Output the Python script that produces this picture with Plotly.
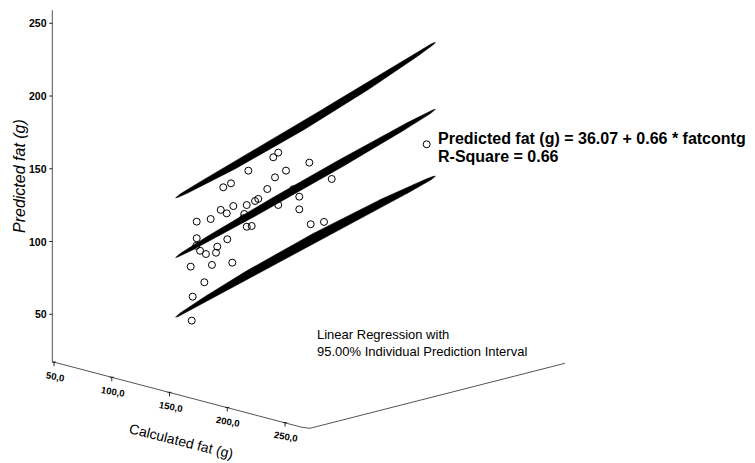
import numpy as np
import plotly.graph_objects as go

# ---------------- data ----------------
calc_fat = [264.4, 135.9, 131.6, 162.8, 110.0, 142.6, 133.1, 182.2, 95.0, 88.3,
            126.4, 148.9, 154.1, 118.6, 115.8, 108.6, 97.0, 86.1, 91.3, 135.9,
            154.1, 106.5, 105.6, 65.3, 77.4, 108.6, 112.9, 164.0, 175.5, 65.3,
            91.8, 68.2, 83.1, 73.3, 82.0, 60.1, 78.5, 96.1, 71.9, 61.8, 61.0, 64.9]
pred_fat = [190.0, 157.6, 153.5, 156.3, 139.8, 146.6, 140.0, 149.1, 128.0, 123.9,
            130.6, 135.1, 131.1, 122.2, 120.2, 115.9, 112.8, 107.9, 106.6, 121.6,
            122.4, 109.3, 106.2, 95.5, 99.8, 101.0, 102.4, 114.2, 118.2, 84.1,
            88.9, 76.1, 82.0, 74.9, 77.6, 63.5, 68.5, 73.7, 55.2, 43.2, 26.6, 78.8]

band_calc = [47, 103, 160, 216, 272]
band_fit = [67.1, 104.1, 141.7, 178.6, 215.6]
band_upper = [108.1, 144.1, 182.3, 221.3, 261.6]
band_lower = [26.1, 64.0, 101.0, 135.9, 169.6]

calc_ticks = [50, 100, 150, 200, 250]
calc_tick_labels = ["50,0", "100,0", "150,0", "200,0", "250,0"]
pred_ticks = [50, 100, 150, 200, 250]
pred_tick_labels = ["50", "100", "150", "200", "250"]
calc_range = [48.5, 269.0]
pred_range = [17.4, 259.0]

equation_text = "Predicted fat (g) = 36.07 + 0.66 * fatcontg"
rsq_text = "R-Square = 0.66"
note_lines = ["Linear Regression with", "95.00% Individual Prediction Interval"]

# ---------------- oblique projection (pseudo 3-D) ----------------
CX0, CY0 = 52.3, 361.7       # screen corner of (calc_min, pred_min, depth 0)
KX, KXY = 1.155, 0.302       # screen px per calc unit (x, down)
KP = 1.455                   # screen px per pred unit (up)
DX, DY = 258.0, -65.0        # full depth vector
POINT_DEPTH = 0.4845


def proj(c, p, d=0.0):
    c = np.asarray(c, float)
    p = np.asarray(p, float)
    sx = CX0 + (c - calc_range[0]) * KX + d * DX
    sy = CY0 + (c - calc_range[0]) * KXY - (p - pred_range[0]) * KP + d * DY
    return sx, sy


fig = go.Figure()
AX_COL = "#555555"


def line(xs, ys, color=AX_COL, width=1):
    fig.add_trace(go.Scatter(x=list(xs), y=list(ys), mode="lines",
                             line=dict(color=color, width=width),
                             hoverinfo="skip", showlegend=False))


# vertical axis
vx, vy = proj([calc_range[0]] * 2, pred_range)
line(vx, vy)
for t in pred_ticks:
    tx, ty = proj(calc_range[0], t)
    line([tx - 3, tx], [ty, ty], color="#222222")
# calc axis + depth axis
ax_c, ax_p = proj(calc_range, [pred_range[0]] * 2)
dx_, dy_ = proj(calc_range[1], pred_range[0], 1.0)
line([ax_c[0], ax_c[1] - 5, ax_c[1] + 3, float(dx_)],
     [ax_p[0], ax_p[1] - 1, ax_p[1], float(dy_)])
for t in calc_ticks:
    tx, ty = proj(t, pred_range[0])
    line([tx, tx], [ty, ty + 4], color="#222222")
    line([tx - 2, tx + 2], [ty, ty], color="#222222")

# ribbons (regression line and prediction limits)
cs = np.linspace(band_calc[0], band_calc[-1], 120)
s = (cs - cs[0]) / (cs[-1] - cs[0])
for vals, wmax in [(band_upper, 4.5), (band_fit, 4.5), (band_lower, 5.0)]:
    ps = np.interp(cs, band_calc, vals)
    sx, sy = proj(cs, ps, POINT_DEPTH)
    w = wmax * np.sin(np.pi * s) ** 0.45
    xs = np.concatenate([sx, sx[::-1]])
    ys = np.concatenate([sy - w, (sy + w)[::-1]])
    fig.add_trace(go.Scatter(x=xs, y=ys, mode="lines", fill="toself",
                             fillcolor="black", line=dict(color="black", width=0.5),
                             hoverinfo="skip", showlegend=False))

# points
px, py = proj(calc_fat, pred_fat, POINT_DEPTH)
fig.add_trace(go.Scatter(x=px, y=py, mode="markers",
                         marker=dict(symbol="circle-open", size=7,
                                     color="black", line=dict(width=1)),
                         showlegend=False, hoverinfo="skip"))

SANS = "Liberation Sans, Arial"
ann = []
for t, lab in zip(pred_ticks, pred_tick_labels):
    tx, ty = proj(calc_range[0], t)
    ann.append(dict(x=float(tx) - 3, y=float(ty), text=f"<b>{lab}</b>", xanchor="right",
                    yanchor="middle", showarrow=False,
                    font=dict(family=SANS, size=10.5, color="black")))
for t, lab in zip(calc_ticks, calc_tick_labels):
    tx, ty = proj(t, pred_range[0])
    ann.append(dict(x=float(tx) + 1, y=float(ty) + 14, text=f"<b>{lab}</b>", xanchor="center",
                    yanchor="middle", showarrow=False, textangle=10,
                    font=dict(family=SANS, size=9.5, color="black")))

ann.append(dict(x=181, y=441, text="Calculated fat (g)", showarrow=False, textangle=14,
                xanchor="center", yanchor="middle",
                font=dict(family=SANS, size=14, color="black")))
ann.append(dict(x=19, y=176, text="<i>Predicted fat (g)</i>", showarrow=False, textangle=-90,
                xanchor="center", yanchor="middle",
                font=dict(family=SANS, size=16, color="black")))
ann.append(dict(x=436, y=138, text=f"<b>{equation_text}</b>", showarrow=False,
                xanchor="left", yanchor="middle",
                font=dict(family=SANS, size=16, color="black")))
ann.append(dict(x=436, y=156, text=f"<b>{rsq_text}</b>", showarrow=False,
                xanchor="left", yanchor="middle",
                font=dict(family=SANS, size=16, color="black")))
for i, t in enumerate(note_lines):
    ann.append(dict(x=315, y=334 + 17 * i, text=t, showarrow=False,
                    xanchor="left", yanchor="middle",
                    font=dict(family=SANS, size=13, color="black")))

fig.update_layout(
    width=755, height=463,
    margin=dict(l=0, r=0, t=0, b=0),
    paper_bgcolor="white", plot_bgcolor="white",
    xaxis=dict(range=[0, 755], visible=False, fixedrange=True),
    yaxis=dict(range=[463, 0], visible=False, fixedrange=True),
    annotations=ann,
    showlegend=False,
)
fig.write_html("out.html", config={"displayModeBar": False},
               post_script="document.body.style.margin='0';document.body.style.overflow='hidden';")
